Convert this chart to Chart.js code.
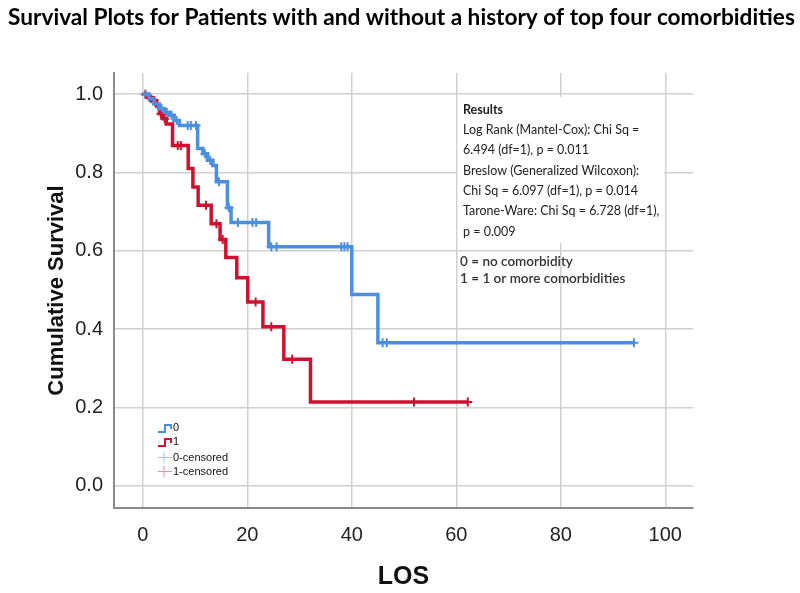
<!DOCTYPE html>
<html>
<head>
<meta charset="utf-8">
<script src="https://cdn.jsdelivr.net/npm/chart.js@4"></script>
<style>
  body { margin: 0; background: #fff; }
  #wrap { width: 800px; height: 593px; }
</style>
</head>
<body>
<div id="wrap"><canvas id="chartKM" width="800" height="593"></canvas></div>
<script>
// group 0 = no comorbidity, group 1 = 1 or more comorbidities
const tempo0 = [0, 1.2, 2.2, 3.2, 4.1, 5.1, 6, 7, 10.5, 11.5, 12.4, 13.4, 14.1, 16.2, 16.9, 24.1, 40, 45, 94];
const sobrev0 = [1.0, 0.988, 0.975, 0.963, 0.954, 0.946, 0.933, 0.92, 0.861, 0.848, 0.831, 0.818, 0.776, 0.71, 0.672, 0.61, 0.488, 0.365, 0.365];

const tempo1 = [0, 0.9, 1.6, 2.6, 3.2, 3.9, 4.5, 5.7, 8.7, 9.6, 10.6, 13.1, 14.8, 15.9, 18, 20.1, 23, 27, 32.1, 62.2];
const sobrev1 = [1.0, 0.992, 0.984, 0.971, 0.95, 0.937, 0.924, 0.869, 0.81, 0.763, 0.716, 0.669, 0.629, 0.583, 0.531, 0.469, 0.406, 0.323, 0.214, 0.214];

// censored cases
const censT0 = [0.5, 1.6, 2.6, 3.6, 4.6, 5.5, 6.5, 8.6, 9.2, 10.2, 11.9, 12.9, 14.6, 16.5, 18.2, 21.0, 21.7, 24.6, 25.6, 38.0, 38.6, 39.2, 45.9, 46.7, 94.0];
const censS0 = [1.0, 0.988, 0.975, 0.963, 0.954, 0.946, 0.933, 0.92, 0.92, 0.92, 0.848, 0.831, 0.776, 0.71, 0.672, 0.672, 0.672, 0.61, 0.61, 0.61, 0.61, 0.61, 0.365, 0.365, 0.365];

const censT1 = [0.5, 1.3, 2.2, 3.5, 4.2, 6.7, 7.3, 12.1, 14.1, 15.3, 21.6, 24.6, 28.6, 51.9, 62.2];
const censS1 = [1.0, 0.992, 0.984, 0.95, 0.937, 0.869, 0.869, 0.716, 0.669, 0.629, 0.469, 0.406, 0.323, 0.214, 0.214];

const ticksX = [0, 20, 40, 60, 80, 100];
const ticksY = [0, 0.2, 0.4, 0.6, 0.8, 1.0];

const titulo = 'Survival Plots for Patients with and without a history of top four comorbidities';
const resultados = [
  'Results',
  'Log Rank (Mantel-Cox): Chi Sq =',
  '6.494 (df=1), p = 0.011',
  'Breslow (Generalized Wilcoxon):',
  'Chi Sq = 6.097 (df=1), p = 0.014',
  'Tarone-Ware: Chi Sq = 6.728 (df=1),',
  'p = 0.009'
];
const legendaGrupos = ['0 = no comorbidity', '1 = 1 or more comorbidities'];
const legendaItens = ['0', '1', '0-censored', '1-censored'];

const AZUL = '#4a8fe0';
const VERMELHO = '#d0102f';

function pontos(ts, ss) {
  return ts.map((t, i) => ({ x: t, y: ss[i] }));
}

const textoPlugin = {
  id: 'textos',
  beforeDatasetsDraw(chart) {
    const { ctx, scales } = chart;
    const x = scales.x;
    // white box behind the results text
    ctx.save();
    ctx.fillStyle = '#fff';
    const bx = x.getPixelForValue(60) + 1.5;
    const bx2 = x.getPixelForValue(100) - 1.5;
    const by = 97, by2 = 243;
    ctx.fillRect(bx, by, bx2 - bx, by2 - by);
    ctx.restore();
  },
  afterDraw(chart) {
    const { ctx } = chart;
    ctx.save();
    // title, stretched to the width it has in the picture
    ctx.fillStyle = '#000';
    ctx.textBaseline = 'middle';
    ctx.textAlign = 'left';
    ctx.font = 'bold 18px Lato';
    const w = ctx.measureText(titulo).width;
    const tam = 18 * 787 / w;
    ctx.font = 'bold ' + tam.toFixed(2) + 'px Lato';
    ctx.fillText(titulo, 8, 18);

    // results text
    const linhasY = [110, 130, 150, 171, 191, 211, 232];
    ctx.fillStyle = '#222';
    resultados.forEach((s, i) => {
      ctx.font = (i === 0 ? 'bold ' : '') + '12.5px Lato';
      ctx.fillText(s, 463, linhasY[i]);
    });
    ctx.fillStyle = '#333';
    ctx.font = '600 13.5px Lato';
    ctx.fillText(legendaGrupos[0], 460, 262);
    ctx.fillText(legendaGrupos[1], 460, 279);

    // legend in the lower left corner
    const legY = [428, 442, 457.5, 471.5];
    const cores = [AZUL, VERMELHO, '#9cc3ee', '#ee8fa3'];
    legendaItens.forEach((s, i) => {
      const yy = legY[i];
      ctx.strokeStyle = cores[i];
      ctx.beginPath();
      if (i < 2) {
        ctx.lineWidth = 2;
        ctx.moveTo(158, yy + 4);
        ctx.lineTo(165, yy + 4);
        ctx.lineTo(165, yy - 3);
        ctx.lineTo(171, yy - 3);
        ctx.lineTo(171, yy + 1);
      } else {
        ctx.lineWidth = 1;
        ctx.moveTo(158, yy);
        ctx.lineTo(172, yy);
        ctx.moveTo(164, yy - 6);
        ctx.lineTo(164, yy + 6);
      }
      ctx.stroke();
      ctx.fillStyle = '#111';
      ctx.font = '11px "Liberation Sans"';
      ctx.fillText(s, 173, yy);
    });
    ctx.restore();
  }
};

const ctx = document.getElementById('chartKM').getContext('2d');
new Chart(ctx, {
  type: 'line',
  data: {
    datasets: [
      {
        data: pontos(tempo0, sobrev0),
        borderColor: AZUL,
        borderWidth: 3.5,
        stepped: true,
        pointRadius: 0,
        fill: false
      },
      {
        data: pontos(tempo1, sobrev1),
        borderColor: VERMELHO,
        borderWidth: 3.5,
        stepped: true,
        pointRadius: 0,
        fill: false
      },
      {
        data: pontos(censT0, censS0),
        showLine: false,
        pointStyle: 'cross',
        pointRadius: 4.5,
        pointBorderWidth: 2,
        borderColor: AZUL
      },
      {
        data: pontos(censT1, censS1),
        showLine: false,
        pointStyle: 'cross',
        pointRadius: 4.5,
        pointBorderWidth: 2,
        borderColor: VERMELHO
      }
    ]
  },
  options: {
    responsive: false,
    animation: false,
    layout: { padding: { top: 73, right: 107, left: 0, bottom: 0 } },
    plugins: {
      legend: { display: false },
      tooltip: { enabled: false }
    },
    scales: {
      x: {
        type: 'linear',
        min: -5.5,
        max: 105.3,
        afterBuildTicks: s => { s.ticks = ticksX.map(v => ({ value: v })); },
        afterFit: s => { s.height = 85; },
        grid: { color: '#d0d0d0', lineWidth: 1.5, drawTicks: false },
        border: { color: '#8a8a8a', width: 2 },
        ticks: {
          padding: 15,
          color: '#222',
          font: { family: 'Liberation Sans', size: 20 },
          callback: v => String(v)
        },
        title: {
          display: true,
          text: 'LOS',
          color: '#111',
          font: { family: 'Liberation Sans', size: 25, weight: 'bold' },
          padding: { top: 0, bottom: 1 }
        }
      },
      y: {
        min: -0.057,
        max: 1.054,
        afterBuildTicks: s => { s.ticks = ticksY.map(v => ({ value: v })); },
        afterFit: s => { s.width = 114; },
        grid: { color: '#d0d0d0', lineWidth: 1.5, drawTicks: false },
        border: { color: '#8a8a8a', width: 2 },
        ticks: {
          padding: 11,
          color: '#222',
          font: { family: 'Liberation Sans', size: 20 },
          callback: v => v.toFixed(1)
        },
        title: {
          display: true,
          text: 'Cumulative Survival',
          color: '#111',
          font: { family: 'Liberation Sans', size: 22, weight: 'bold' },
          padding: { top: 44, bottom: 0 }
        }
      }
    }
  },
  plugins: [textoPlugin]
});
</script>
</body>
</html>
